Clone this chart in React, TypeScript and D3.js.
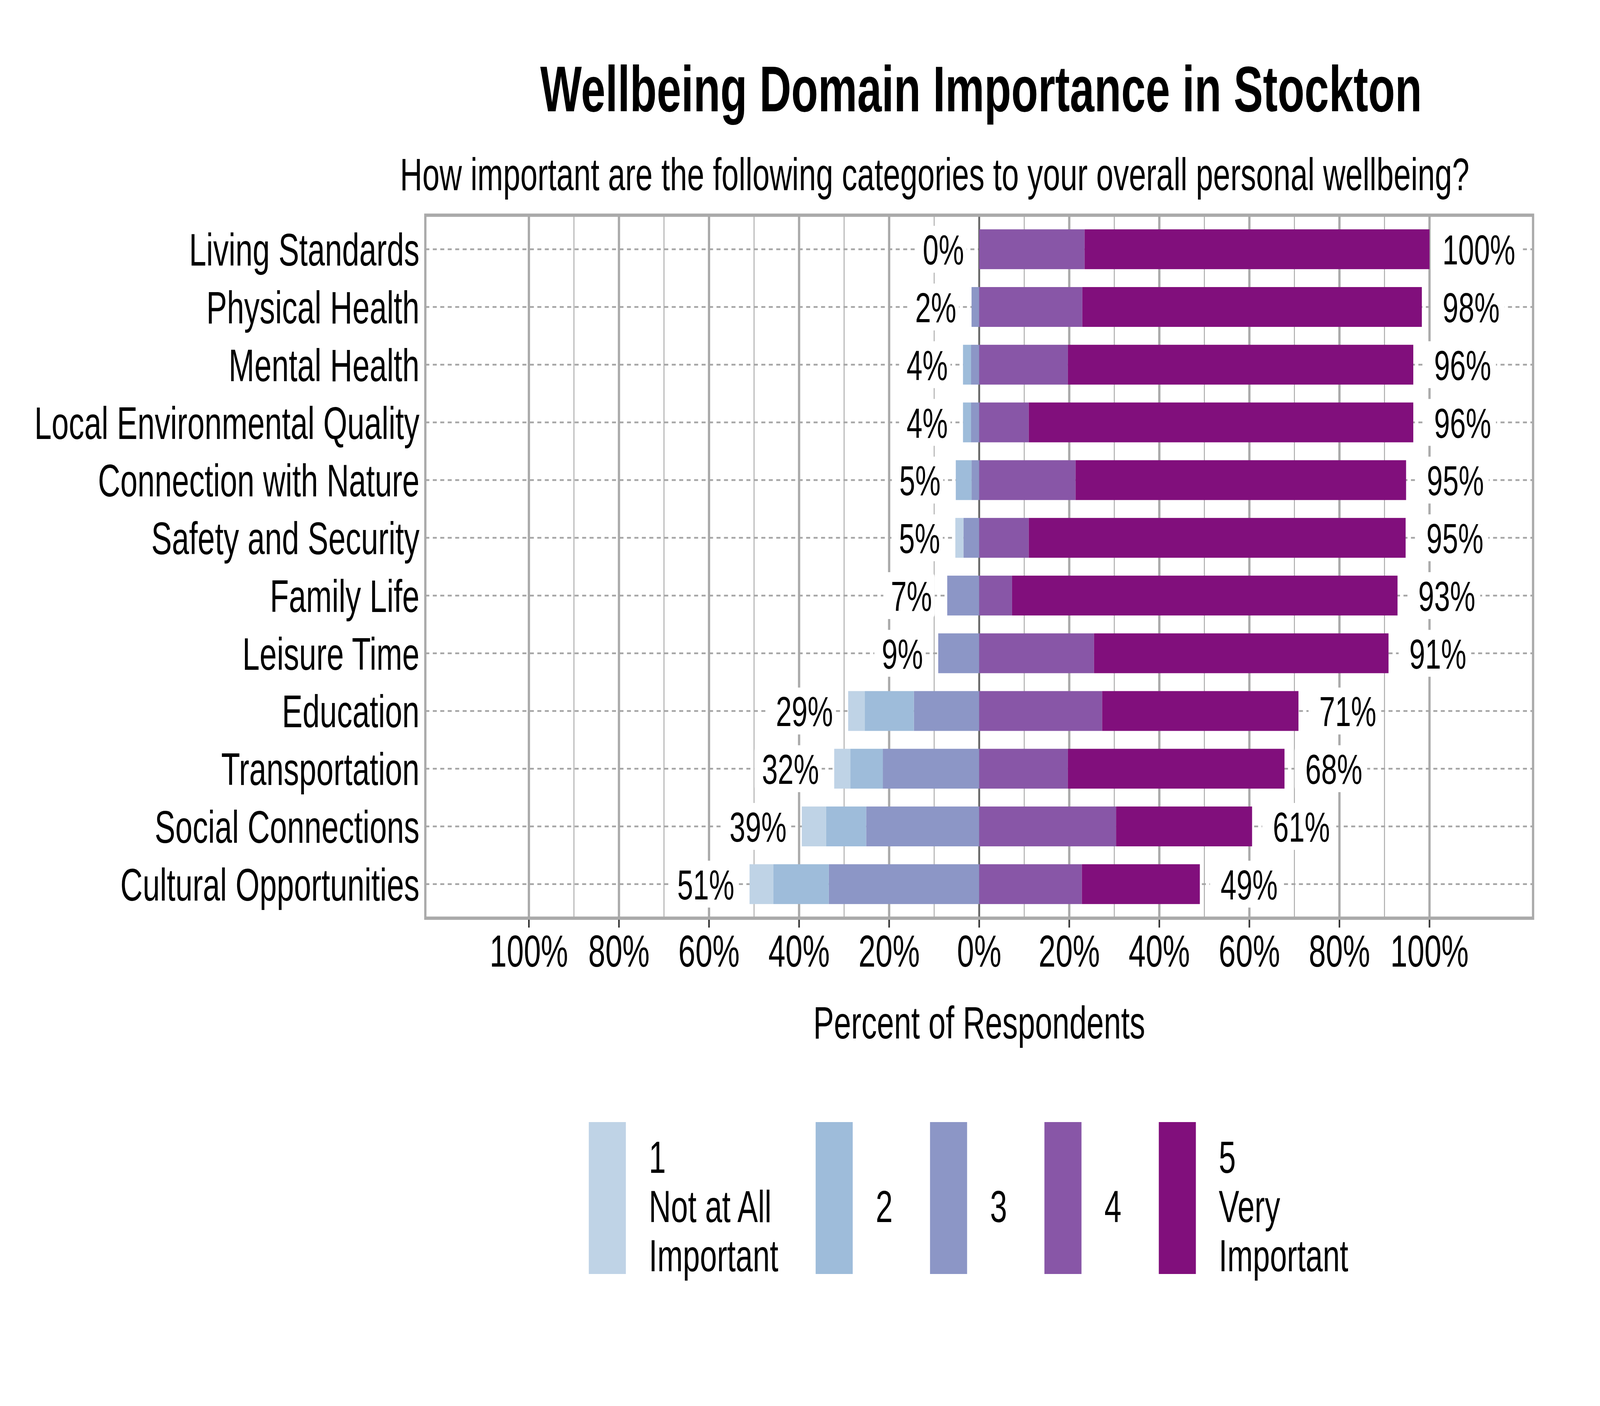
import React, { useEffect, useRef } from 'react';
import * as d3 from 'd3';

const categories = [
  'Living Standards',
  'Physical Health',
  'Mental Health',
  'Local Environmental Quality',
  'Connection with Nature',
  'Safety and Security',
  'Family Life',
  'Leisure Time',
  'Education',
  'Transportation',
  'Social Connections',
  'Cultural Opportunities'
];

// percent of respondents per rating (1 = not at all important ... 5 = very important)
const notAtAll = [0, 0, 0, 0, 0, 1.8, 0, 0, 3.7, 3.6, 5.4, 5.3];
const level2 = [0, 0, 1.8, 1.8, 3.5, 0, 0, 0, 10.9, 7.2, 8.9, 12.3];
const level3 = [0, 1.7, 1.8, 1.8, 1.7, 3.5, 7.1, 9.1, 14.5, 21.4, 25.1, 33.4];
const level4 = [23.4, 22.9, 19.7, 11.0, 21.4, 11.0, 7.3, 25.5, 27.3, 19.7, 30.4, 22.8];
const veryImportant = [76.6, 75.4, 76.7, 85.4, 73.4, 83.7, 85.6, 65.4, 43.6, 48.1, 30.2, 26.2];

const legendLabels = [['1', 'Not at All', 'Important'], ['2'], ['3'], ['4'], ['5', 'Very', 'Important']];
const colors = ['#bfd3e6', '#9ebcda', '#8c96c6', '#8856a7', '#810f7c'];
const tickValues = [-1, -0.8, -0.6, -0.4, -0.2, 0, 0.2, 0.4, 0.6, 0.8, 1];
const minorValues = [-0.9, -0.7, -0.5, -0.3, -0.1, 0.1, 0.3, 0.5, 0.7, 0.9];

const title = 'Wellbeing Domain Importance in Stockton';
const subtitle = 'How important are the following categories to your overall personal wellbeing?';
const xTitle = 'Percent of Respondents';

const W = 6000;
const H = 3600;
const FONT = "'Liberation Sans', Arial, sans-serif";

const LikertChart: React.FC = () => {
  const svgRef = useRef<SVGSVGElement>(null);

  useEffect(() => {
    if (!svgRef.current) return;
    document.body.style.margin = '0';
    document.body.style.overflow = 'hidden';

    const svg = d3.select(svgRef.current);
    svg.selectAll('*').remove();

    const plot = { left: 1595, right: 5749, top: 551, bottom: 2351 };
    const grid = '#aaaaaa';

    const x = d3.scaleLinear().domain([-1.23, 1.23]).range([plot.left, plot.right]);
    const y = d3
      .scaleBand<string>()
      .domain(categories)
      .range([plot.top, plot.bottom])
      .paddingInner(0.31)
      .paddingOuter(0.245);
    const yc = (c: string) => (y(c) as number) + y.bandwidth() / 2;

    svg.append('rect').attr('width', W).attr('height', H).attr('fill', '#ffffff');

    // Title and subtitle
    svg
      .append('text')
      .attr('x', (plot.left + plot.right) / 2 + 7)
      .attr('y', 285)
      .attr('text-anchor', 'middle')
      .attr('font-family', FONT)
      .attr('font-weight', 'bold')
      .attr('font-size', 165)
      .text(title);

    svg
      .append('text')
      .attr('x', 3505)
      .attr('y', 487)
      .attr('text-anchor', 'middle')
      .attr('font-family', FONT)
      .attr('font-size', 116)
      .text(subtitle);

    const g = svg.append('g');

    // Vertical grid
    g.selectAll('line.minor')
      .data(minorValues)
      .join('line')
      .attr('class', 'minor')
      .attr('x1', d => x(d))
      .attr('x2', d => x(d))
      .attr('y1', plot.top)
      .attr('y2', plot.bottom)
      .attr('stroke', grid)
      .attr('stroke-width', 3.5);

    g.selectAll('line.major')
      .data(tickValues.filter(d => d !== 0))
      .join('line')
      .attr('class', 'major')
      .attr('x1', d => x(d))
      .attr('x2', d => x(d))
      .attr('y1', plot.top)
      .attr('y2', plot.bottom)
      .attr('stroke', grid)
      .attr('stroke-width', 8.5);

    // Horizontal dashed guides
    g.selectAll('line.hgrid')
      .data(categories)
      .join('line')
      .attr('class', 'hgrid')
      .attr('x1', plot.left)
      .attr('x2', plot.right)
      .attr('y1', d => yc(d))
      .attr('y2', d => yc(d))
      .attr('stroke', '#a6a6a6')
      .attr('stroke-width', 4.5)
      .attr('stroke-dasharray', '15 13');

    // Zero line
    g.append('line')
      .attr('x1', x(0))
      .attr('x2', x(0))
      .attr('y1', plot.top)
      .attr('y2', plot.bottom)
      .attr('stroke', '#666666')
      .attr('stroke-width', 7);

    // Bars: ratings 1-3 stacked leftwards, 4-5 rightwards
    const series = [notAtAll, level2, level3, level4, veryImportant];
    const segments: { cat: string; x0: number; x1: number; color: string }[] = [];
    categories.forEach((cat, i) => {
      let left = 0;
      for (let k = 2; k >= 0; k--) {
        const v = series[k][i] / 100;
        if (v > 0) segments.push({ cat, x0: -(left + v), x1: -left, color: colors[k] });
        left += v;
      }
      let right = 0;
      for (let k = 3; k <= 4; k++) {
        const v = series[k][i] / 100;
        if (v > 0) segments.push({ cat, x0: right, x1: right + v, color: colors[k] });
        right += v;
      }
    });

    g.selectAll('rect.seg')
      .data(segments)
      .join('rect')
      .attr('class', 'seg')
      .attr('x', d => x(d.x0))
      .attr('width', d => x(d.x1) - x(d.x0))
      .attr('y', d => y(d.cat) as number)
      .attr('height', y.bandwidth())
      .attr('fill', d => d.color);

    // Percent labels with white rounded boxes
    const labelSize = 107;
    const addLabel = (cat: string, value: number, side: 'neg' | 'pos') => {
      const cy = yc(cat);
      const lg = g.append('g');
      const box = lg.append('rect');
      const t = lg
        .append('text')
        .attr('font-family', FONT)
        .attr('font-size', labelSize)
        .attr('y', cy + 39)
        .text(`${Math.round(value * 100)}%`);
      if (side === 'neg') {
        t.attr('x', x(-value) - 57).attr('text-anchor', 'end');
      } else {
        t.attr('x', x(value) + 185).attr('text-anchor', 'middle');
      }
      const bb = (t.node() as SVGTextElement).getBBox();
      const padL = side === 'neg' ? 28 : 40;
      const padR = side === 'neg' ? 10 : 18;
      box
        .attr('x', bb.x - padL)
        .attr('width', bb.width + padL + padR)
        .attr('y', cy - 60)
        .attr('height', 120)
        .attr('rx', 14)
        .attr('fill', '#ffffff');
    };

    categories.forEach((cat, i) => {
      const neg = (notAtAll[i] + level2[i] + level3[i]) / 100;
      const pos = (level4[i] + veryImportant[i]) / 100;
      addLabel(cat, neg, 'neg');
      addLabel(cat, pos, 'pos');
    });

    // Panel border
    svg
      .append('rect')
      .attr('x', plot.left)
      .attr('y', plot.top)
      .attr('width', plot.right - plot.left)
      .attr('height', plot.bottom - plot.top)
      .attr('fill', 'none')
      .attr('stroke', grid)
      .attr('stroke-width', 8.5);

    // Y axis labels
    svg
      .append('g')
      .selectAll('text')
      .data(categories)
      .join('text')
      .attr('x', plot.left - 22)
      .attr('y', d => yc(d) + 42)
      .attr('text-anchor', 'end')
      .attr('font-family', FONT)
      .attr('font-size', 116)
      .text(d => d);

    // X axis ticks and labels
    const xa = svg.append('g');
    xa.selectAll('line')
      .data(tickValues)
      .join('line')
      .attr('x1', d => x(d))
      .attr('x2', d => x(d))
      .attr('y1', plot.bottom + 4)
      .attr('y2', plot.bottom + 24)
      .attr('stroke', '#333333')
      .attr('stroke-width', 6);
    xa.selectAll('text')
      .data(tickValues)
      .join('text')
      .attr('x', d => x(d))
      .attr('y', 2475)
      .attr('text-anchor', 'middle')
      .attr('font-family', FONT)
      .attr('font-size', 115)
      .text(d => `${Math.round(Math.abs(d) * 100)}%`);

    svg
      .append('text')
      .attr('x', (plot.left + plot.right) / 2)
      .attr('y', 2659)
      .attr('text-anchor', 'middle')
      .attr('font-family', FONT)
      .attr('font-size', 116)
      .text(xTitle);

    // Legend
    const legend = svg.append('g');
    const keyW = 139;
    const keyTop = 2873;
    const keyH = 389;
    const textGap = 86;
    const itemGap = 140;
    const lineH = 126;
    const midBaseline = 3129;
    let cursor = 2208;
    legendLabels.forEach((lines, i) => {
      legend
        .append('rect')
        .attr('x', cursor)
        .attr('y', keyTop)
        .attr('width', keyW)
        .attr('height', keyH)
        .attr('fill', colors[i]);
      const t = legend
        .append('text')
        .attr('font-family', FONT)
        .attr('font-size', 115);
      const first = midBaseline - ((lines.length - 1) / 2) * lineH;
      lines.forEach((ln, j) => {
        t.append('tspan')
          .attr('x', cursor + keyW + textGap)
          .attr('y', first + j * lineH)
          .text(ln);
      });
      const tw = (t.node() as SVGTextElement).getBBox().width;
      cursor += keyW + textGap + tw + itemGap;
    });
  }, []);

  // fill the whole browser window with the 6000x3600 drawing
  return (
    <svg
      ref={svgRef}
      viewBox={`0 0 ${W} ${H}`}
      preserveAspectRatio="none"
      style={{ display: 'block', width: '100vw', height: '100vh' }}
    />
  );
};

export default function App() {
  return <LikertChart />;
}
